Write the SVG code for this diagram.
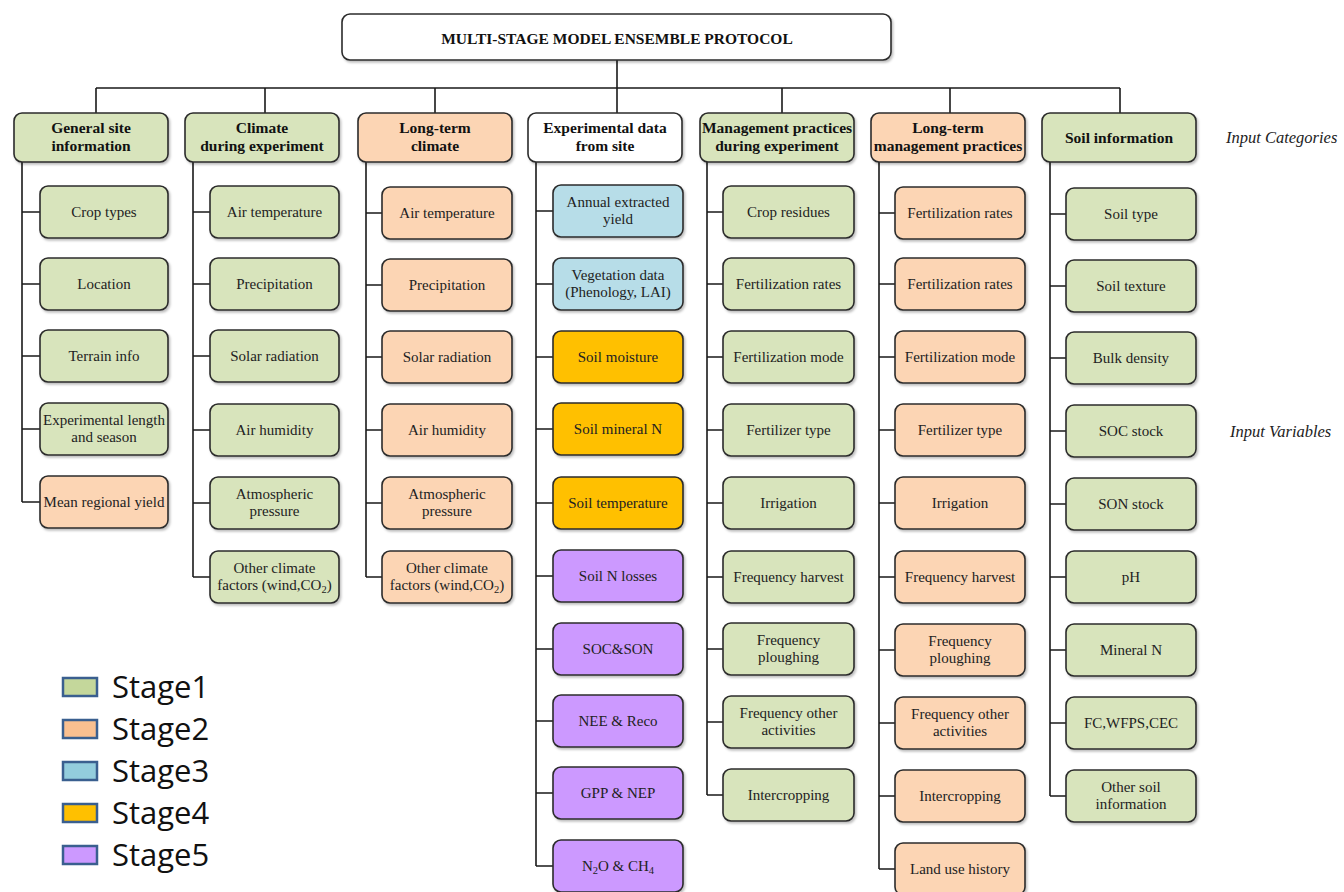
<svg xmlns="http://www.w3.org/2000/svg" width="1344" height="892" viewBox="0 0 1344 892">
<defs>
<filter id="sh" x="-10%" y="-10%" width="130%" height="140%"><feDropShadow dx="1.5" dy="2" stdDeviation="1.2" flood-color="#000" flood-opacity="0.25"/></filter>
<style>
.b{stroke:#2b2b2b;stroke-width:1.6;filter:url(#sh)}
.s1{fill:#d8e4bc}.s2{fill:#fcd5b4}.s3{fill:#b7dde8}.s4{fill:#ffc000}.s5{fill:#cc99ff}.w{fill:#fff}
.t{font-family:"Liberation Serif","Times New Roman",serif;font-size:15px;fill:#222;text-anchor:middle}
.h{font-family:"Liberation Serif","Times New Roman",serif;font-size:15.5px;font-weight:bold;fill:#111;text-anchor:middle}
.c{fill:none;stroke:#1a1a1a;stroke-width:1.6}
.i{font-family:"Liberation Serif","Times New Roman",serif;font-size:16.5px;font-style:italic;fill:#222}
.lg{stroke:#3a5f8f;stroke-width:2.5}
.lt{font-family:"Open Sans","Liberation Sans",sans-serif;font-size:31px;fill:#111}
</style>
</defs>
<rect width="1344" height="892" fill="#fff"/>

<g id="connectors">
<path class="c" d="M617,60V113M96,88H1120M96,88V113M265,88V113M435,88V113M782,88V113M950,88V113M1120,88V113"/>
<path class="c" d="M22,162V502M22,212H40M22,284H40M22,356H40M22,429H40M22,502H40"/>
<path class="c" d="M193,162V577M193,212H210M193,284H210M193,356H210M193,430H210M193,503H210M193,577H210"/>
<path class="c" d="M366,162V577M366,213H382M366,285H382M366,357H382M366,430H382M366,503H382M366,577H382"/>
<path class="c" d="M536,162V866M536,211H553M536,284H553M536,357H553M536,429H553M536,503H553M536,576H553M536,649H553M536,721H553M536,793H553M536,866H553"/>
<path class="c" d="M707,162V795M707,212H723M707,284H723M707,357H723M707,430H723M707,503H723M707,577H723M707,649H723M707,722H723M707,795H723"/>
<path class="c" d="M879,162V869M879,213H895M879,284H895M879,357H895M879,430H895M879,503H895M879,577H895M879,650H895M879,723H895M879,796H895M879,869H895"/>
<path class="c" d="M1050,162V796M1050,214H1066M1050,286H1066M1050,358H1066M1050,431H1066M1050,504H1066M1050,577H1066M1050,650H1066M1050,723H1066M1050,796H1066"/>
</g>

<g id="title"><rect class="b w" x="342" y="14" width="549" height="46" rx="8"/><text class="h" x="617" y="44" style="font-size:15.5px">MULTI-STAGE MODEL ENSEMBLE PROTOCOL</text></g>

<g id="cat1"><rect class="b s1" x="14" y="113" width="154" height="49" rx="8"/><text class="h" x="91" y="133">General site</text><text class="h" x="91" y="151">information</text></g>
<g id="cat2"><rect class="b s1" x="185" y="113" width="154" height="49" rx="8"/><text class="h" x="262" y="133">Climate</text><text class="h" x="262" y="151">during experiment</text></g>
<g id="cat3"><rect class="b s2" x="358" y="113" width="154" height="49" rx="8"/><text class="h" x="435" y="133">Long-term</text><text class="h" x="435" y="151">climate</text></g>
<g id="cat4"><rect class="b w" x="528" y="113" width="154" height="49" rx="8"/><text class="h" x="605" y="133">Experimental data</text><text class="h" x="605" y="151">from site</text></g>
<g id="cat5"><rect class="b s1" x="700" y="113" width="154" height="49" rx="8"/><text class="h" x="777" y="133">Management practices</text><text class="h" x="777" y="151">during experiment</text></g>
<g id="cat6"><rect class="b s2" x="871" y="113" width="154" height="49" rx="8"/><text class="h" x="948" y="133">Long-term</text><text class="h" x="948" y="151">management practices</text></g>
<g id="cat7"><rect class="b s1" x="1042" y="113" width="154" height="49" rx="8"/><text class="h" x="1119" y="143">Soil information</text></g>

<!-- column 1 -->
<g id="c1n1"><rect class="b s1" x="40" y="186" width="128" height="52" rx="8"/><text class="t" x="104" y="217">Crop types</text></g>
<g id="c1n2"><rect class="b s1" x="40" y="258" width="128" height="52" rx="8"/><text class="t" x="104" y="289">Location</text></g>
<g id="c1n3"><rect class="b s1" x="40" y="330" width="128" height="52" rx="8"/><text class="t" x="104" y="361">Terrain info</text></g>
<g id="c1n4"><rect class="b s1" x="40" y="403" width="128" height="52" rx="8"/><text class="t" x="104" y="425">Experimental length</text><text class="t" x="104" y="442">and season</text></g>
<g id="c1n5"><rect class="b s2" x="40" y="476" width="128" height="52" rx="8"/><text class="t" x="104" y="507">Mean regional yield</text></g>

<!-- column 2 -->
<g id="c2n1"><rect class="b s1" x="210" y="186" width="129" height="52" rx="8"/><text class="t" x="274.5" y="217">Air temperature</text></g>
<g id="c2n2"><rect class="b s1" x="210" y="258" width="129" height="52" rx="8"/><text class="t" x="274.5" y="289">Precipitation</text></g>
<g id="c2n3"><rect class="b s1" x="210" y="330" width="129" height="52" rx="8"/><text class="t" x="274.5" y="361">Solar radiation</text></g>
<g id="c2n4"><rect class="b s1" x="210" y="404" width="129" height="52" rx="8"/><text class="t" x="274.5" y="435">Air humidity</text></g>
<g id="c2n5"><rect class="b s1" x="210" y="477" width="129" height="52" rx="8"/><text class="t" x="274.5" y="499">Atmospheric</text><text class="t" x="274.5" y="516">pressure</text></g>
<g id="c2n6"><rect class="b s1" x="210" y="551" width="129" height="52" rx="8"/><text class="t" x="274.5" y="573">Other climate</text><text class="t" x="274.5" y="590">factors (wind,CO<tspan font-size="10.5" dy="3">2</tspan><tspan dy="-3">)</tspan></text></g>

<!-- column 3 -->
<g id="c3n1"><rect class="b s2" x="382" y="187" width="130" height="52" rx="8"/><text class="t" x="447" y="218">Air temperature</text></g>
<g id="c3n2"><rect class="b s2" x="382" y="259" width="130" height="52" rx="8"/><text class="t" x="447" y="290">Precipitation</text></g>
<g id="c3n3"><rect class="b s2" x="382" y="331" width="130" height="52" rx="8"/><text class="t" x="447" y="362">Solar radiation</text></g>
<g id="c3n4"><rect class="b s2" x="382" y="404" width="130" height="52" rx="8"/><text class="t" x="447" y="435">Air humidity</text></g>
<g id="c3n5"><rect class="b s2" x="382" y="477" width="130" height="52" rx="8"/><text class="t" x="447" y="499">Atmospheric</text><text class="t" x="447" y="516">pressure</text></g>
<g id="c3n6"><rect class="b s2" x="382" y="551" width="130" height="52" rx="8"/><text class="t" x="447" y="573">Other climate</text><text class="t" x="447" y="590">factors (wind,CO<tspan font-size="10.5" dy="3">2</tspan><tspan dy="-3">)</tspan></text></g>

<!-- column 4 -->
<g id="c4n1"><rect class="b s3" x="553" y="185" width="130" height="52" rx="8"/><text class="t" x="618" y="207">Annual extracted</text><text class="t" x="618" y="224">yield</text></g>
<g id="c4n2"><rect class="b s3" x="553" y="258" width="130" height="52" rx="8"/><text class="t" x="618" y="280">Vegetation data</text><text class="t" x="618" y="297">(Phenology, LAI)</text></g>
<g id="c4n3"><rect class="b s4" x="553" y="331" width="130" height="52" rx="8"/><text class="t" x="618" y="362">Soil moisture</text></g>
<g id="c4n4"><rect class="b s4" x="553" y="403" width="130" height="52" rx="8"/><text class="t" x="618" y="434">Soil mineral N</text></g>
<g id="c4n5"><rect class="b s4" x="553" y="477" width="130" height="52" rx="8"/><text class="t" x="618" y="508">Soil temperature</text></g>
<g id="c4n6"><rect class="b s5" x="553" y="550" width="130" height="52" rx="8"/><text class="t" x="618" y="581">Soil N losses</text></g>
<g id="c4n7"><rect class="b s5" x="553" y="623" width="130" height="52" rx="8"/><text class="t" x="618" y="654">SOC&amp;SON</text></g>
<g id="c4n8"><rect class="b s5" x="553" y="695" width="130" height="52" rx="8"/><text class="t" x="618" y="726">NEE &amp; Reco</text></g>
<g id="c4n9"><rect class="b s5" x="553" y="767" width="130" height="52" rx="8"/><text class="t" x="618" y="798">GPP &amp; NEP</text></g>
<g id="c4n10"><rect class="b s5" x="553" y="840" width="130" height="52" rx="8"/><text class="t" x="618" y="871">N<tspan font-size="10.5" dy="3">2</tspan><tspan dy="-3">O &amp; CH</tspan><tspan font-size="10.5" dy="3">4</tspan></text></g>

<!-- column 5 -->
<g id="c5n1"><rect class="b s1" x="723" y="186" width="131" height="52" rx="8"/><text class="t" x="788.5" y="217">Crop residues</text></g>
<g id="c5n2"><rect class="b s1" x="723" y="258" width="131" height="52" rx="8"/><text class="t" x="788.5" y="289">Fertilization rates</text></g>
<g id="c5n3"><rect class="b s1" x="723" y="331" width="131" height="52" rx="8"/><text class="t" x="788.5" y="362">Fertilization mode</text></g>
<g id="c5n4"><rect class="b s1" x="723" y="404" width="131" height="52" rx="8"/><text class="t" x="788.5" y="435">Fertilizer type</text></g>
<g id="c5n5"><rect class="b s1" x="723" y="477" width="131" height="52" rx="8"/><text class="t" x="788.5" y="508">Irrigation</text></g>
<g id="c5n6"><rect class="b s1" x="723" y="551" width="131" height="52" rx="8"/><text class="t" x="788.5" y="582">Frequency harvest</text></g>
<g id="c5n7"><rect class="b s1" x="723" y="623" width="131" height="52" rx="8"/><text class="t" x="788.5" y="645">Frequency</text><text class="t" x="788.5" y="662">ploughing</text></g>
<g id="c5n8"><rect class="b s1" x="723" y="696" width="131" height="52" rx="8"/><text class="t" x="788.5" y="718">Frequency other</text><text class="t" x="788.5" y="735">activities</text></g>
<g id="c5n9"><rect class="b s1" x="723" y="769" width="131" height="52" rx="8"/><text class="t" x="788.5" y="800">Intercropping</text></g>

<!-- column 6 -->
<g id="c6n1"><rect class="b s2" x="895" y="187" width="130" height="52" rx="8"/><text class="t" x="960" y="218">Fertilization rates</text></g>
<g id="c6n2"><rect class="b s2" x="895" y="258" width="130" height="52" rx="8"/><text class="t" x="960" y="289">Fertilization rates</text></g>
<g id="c6n3"><rect class="b s2" x="895" y="331" width="130" height="52" rx="8"/><text class="t" x="960" y="362">Fertilization mode</text></g>
<g id="c6n4"><rect class="b s2" x="895" y="404" width="130" height="52" rx="8"/><text class="t" x="960" y="435">Fertilizer type</text></g>
<g id="c6n5"><rect class="b s2" x="895" y="477" width="130" height="52" rx="8"/><text class="t" x="960" y="508">Irrigation</text></g>
<g id="c6n6"><rect class="b s2" x="895" y="551" width="130" height="52" rx="8"/><text class="t" x="960" y="582">Frequency harvest</text></g>
<g id="c6n7"><rect class="b s2" x="895" y="624" width="130" height="52" rx="8"/><text class="t" x="960" y="646">Frequency</text><text class="t" x="960" y="663">ploughing</text></g>
<g id="c6n8"><rect class="b s2" x="895" y="697" width="130" height="52" rx="8"/><text class="t" x="960" y="719">Frequency other</text><text class="t" x="960" y="736">activities</text></g>
<g id="c6n9"><rect class="b s2" x="895" y="770" width="130" height="52" rx="8"/><text class="t" x="960" y="801">Intercropping</text></g>
<g id="c6n10"><rect class="b s2" x="895" y="843" width="130" height="52" rx="8"/><text class="t" x="960" y="874">Land use history</text></g>

<!-- column 7 -->
<g id="c7n1"><rect class="b s1" x="1066" y="188" width="130" height="52" rx="8"/><text class="t" x="1131" y="219">Soil type</text></g>
<g id="c7n2"><rect class="b s1" x="1066" y="260" width="130" height="52" rx="8"/><text class="t" x="1131" y="291">Soil texture</text></g>
<g id="c7n3"><rect class="b s1" x="1066" y="332" width="130" height="52" rx="8"/><text class="t" x="1131" y="363">Bulk density</text></g>
<g id="c7n4"><rect class="b s1" x="1066" y="405" width="130" height="52" rx="8"/><text class="t" x="1131" y="436">SOC stock</text></g>
<g id="c7n5"><rect class="b s1" x="1066" y="478" width="130" height="52" rx="8"/><text class="t" x="1131" y="509">SON stock</text></g>
<g id="c7n6"><rect class="b s1" x="1066" y="551" width="130" height="52" rx="8"/><text class="t" x="1131" y="582">pH</text></g>
<g id="c7n7"><rect class="b s1" x="1066" y="624" width="130" height="52" rx="8"/><text class="t" x="1131" y="655">Mineral N</text></g>
<g id="c7n8"><rect class="b s1" x="1066" y="697" width="130" height="52" rx="8"/><text class="t" x="1131" y="728">FC,WFPS,CEC</text></g>
<g id="c7n9"><rect class="b s1" x="1066" y="770" width="130" height="52" rx="8"/><text class="t" x="1131" y="792">Other soil</text><text class="t" x="1131" y="809">information</text></g>

<g id="labels">
<text class="i" x="1226" y="143">Input Categories</text>
<text class="i" x="1230" y="437">Input Variables</text>
</g>

<g id="legend">
<rect class="lg" x="63" y="678" width="34" height="18" fill="#c4d79b"/><text class="lt" x="112" y="698">Stage1</text>
<rect class="lg" x="63" y="720" width="34" height="18" fill="#fac090"/><text class="lt" x="112" y="740">Stage2</text>
<rect class="lg" x="63" y="762" width="34" height="18" fill="#93cddd"/><text class="lt" x="112" y="782">Stage3</text>
<rect class="lg" x="63" y="804" width="34" height="18" fill="#ffc000"/><text class="lt" x="112" y="824">Stage4</text>
<rect class="lg" x="63" y="846" width="34" height="18" fill="#cc99ff"/><text class="lt" x="112" y="866">Stage5</text>
</g>
</svg>
